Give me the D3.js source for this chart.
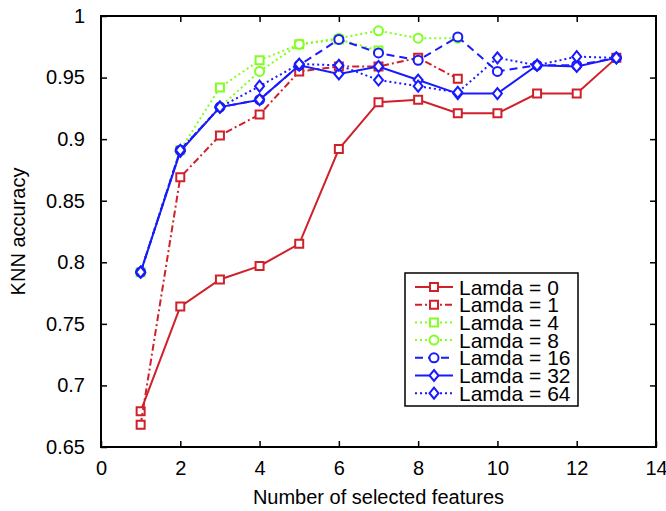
<!DOCTYPE html>
<html>
<head>
<meta charset="utf-8">
<script src="https://cdn.jsdelivr.net/npm/d3@7"></script>
<style>
  body { margin: 0; background: #fff; }
  text { font-family: "Liberation Sans", Arial, sans-serif; fill: #000; }
</style>
</head>
<body>
<svg id="chart" width="666" height="511"></svg>
<script>
// data
var features = [1, 2, 3, 4, 5, 6, 7, 8, 9, 10, 11, 12, 13];
var lamda0  = [0.679, 0.764, 0.786, 0.797, 0.815, 0.892, 0.930, 0.932, 0.921, 0.921, 0.937, 0.937, 0.966];
var lamda1  = [0.668, 0.869, 0.903, 0.920, 0.955, 0.959, 0.959, 0.966, 0.949];
var lamda4  = [0.792, 0.891, 0.942, 0.964, 0.977, 0.981, 0.972];
var lamda8  = [0.792, 0.891, 0.926, 0.955, 0.977, 0.982, 0.988, 0.982, 0.982];
var lamda16 = [0.792, 0.891, 0.926, 0.932, 0.960, 0.981, 0.970, 0.964, 0.983, 0.955, 0.960, 0.960, 0.966];
var lamda32 = [0.792, 0.890, 0.926, 0.932, 0.960, 0.953, 0.959, 0.948, 0.937, 0.937, 0.960, 0.959, 0.966];
var lamda64 = [0.792, 0.891, 0.926, 0.943, 0.961, 0.960, 0.948, 0.943, 0.938, 0.966, 0.960, 0.967, 0.966];
var seriesNames = ["Lamda = 0", "Lamda = 1", "Lamda = 4", "Lamda = 8", "Lamda = 16", "Lamda = 32", "Lamda = 64"];
var xTicks = [0, 2, 4, 6, 8, 10, 12, 14];
var yTicks = [0.65, 0.7, 0.75, 0.8, 0.85, 0.9, 0.95, 1];

var red = "#d0202a", green = "#80ff20", blue = "#1a1aff";
var styles = [
    {color: red,   dash: null,      marker: "square"},
    {color: red,   dash: "7,3,2,3", marker: "square"},
    {color: green, dash: "2,3",     marker: "square"},
    {color: green, dash: "2,3",     marker: "circle"},
    {color: blue,  dash: "8,5",     marker: "circle"},
    {color: blue,  dash: null,      marker: "diamond"},
    {color: blue,  dash: "2,3",     marker: "diamond"}
];
var allSeries = [lamda0, lamda1, lamda4, lamda8, lamda16, lamda32, lamda64];

var svg = d3.select("#chart");
// plot frame (window.top is reserved, so prefixed names)
var pLeft = 101, pRight = 656, pTop = 16, pBottom = 447;

var x = d3.scaleLinear().domain([0, 14]).range([pLeft, pRight]);
var y = d3.scaleLinear().domain([0.65, 1]).range([pBottom, pTop]);

var tickLen = 6;

//inward ticks on all four sides
var xAxisB = d3.axisBottom(x).tickValues(xTicks).tickSizeInner(-tickLen).tickSizeOuter(0).tickPadding(14);
var xAxisT = d3.axisTop(x).tickValues(xTicks.slice(1, -1)).tickSizeInner(-tickLen).tickSizeOuter(0).tickFormat("");
var yAxisL = d3.axisLeft(y).tickValues(yTicks).tickSizeInner(-tickLen).tickSizeOuter(0).tickPadding(16)
    .tickFormat(d3.format("~g"));
var yAxisR = d3.axisRight(y).tickValues(yTicks.slice(1, -1)).tickSizeInner(-tickLen).tickSizeOuter(0).tickFormat("");

function styleAxis(g) {
    g.attr("font-family", null).attr("font-size", null);
    g.select(".domain").remove();
    g.selectAll(".tick line").attr("stroke", "#000").attr("stroke-width", 1.5);
    g.selectAll(".tick text").style("font-size", "20px").attr("fill", "#000");
}

svg.append("g").attr("transform", "translate(0," + pBottom + ")").call(xAxisB).call(styleAxis);
svg.append("g").attr("transform", "translate(0," + pTop + ")").call(xAxisT).call(styleAxis);
svg.append("g").attr("transform", "translate(" + pLeft + ",0)").call(yAxisL).call(styleAxis);
svg.append("g").attr("transform", "translate(" + pRight + ",0)").call(yAxisR).call(styleAxis);

var line = d3.line()
    .x(function(d) { return x(d[0]); })
    .y(function(d) { return y(d[1]); });

function markerPath(type) {
    if (type == "square") return "M-4,-4H4V4H-4Z";
    if (type == "circle") return d3.symbol(d3.symbolCircle, 64)();
    return "M0,-5.5L4.5,0L0,5.5L-4.5,0Z";
}

var plot = svg.append("g");

allSeries.forEach(function(vals, i) {
    var pts = vals.map(function(v, j) { return [features[j], v]; });
    var s = styles[i];
    var g = plot.append("g");
    g.append("path")
        .attr("d", line(pts))
        .attr("fill", "none")
        .attr("stroke", s.color)
        .attr("stroke-width", 2)
        .attr("stroke-dasharray", s.dash);
    g.selectAll(".mk")
        .data(pts)
        .enter()
        .append("path")
        .attr("class", "mk")
        .attr("transform", function(d) { return "translate(" + x(d[0]) + "," + y(d[1]) + ")"; })
        .attr("d", markerPath(s.marker))
        .attr("fill", "#fff")
        .attr("stroke", s.color)
        .attr("stroke-width", 2);
});

// frame
svg.append("rect")
    .attr("x", pLeft).attr("y", pTop)
    .attr("width", pRight - pLeft).attr("height", pBottom - pTop)
    .attr("fill", "none").attr("stroke", "#000").attr("stroke-width", 2);

// axis titles
svg.append("text")
    .attr("x", (pLeft + pRight) / 2)
    .attr("y", 504)
    .attr("text-anchor", "middle")
    .style("font-size", "20px")
    .text("Number of selected features");

svg.append("text")
    .attr("transform", "translate(25," + ((pTop + pBottom) / 2) + ") rotate(-90)")
    .attr("text-anchor", "middle")
    .style("font-size", "20px")
    .text("KNN accuracy");

// legend
var lg = svg.append("g").attr("transform", "translate(405,273)");
var rowH = 17.7;
lg.append("rect")
    .attr("width", 173).attr("height", 133)
    .attr("fill", "#fff").attr("stroke", "#000").attr("stroke-width", 1.5);

seriesNames.forEach(function(name, i) {
    var s = styles[i];
    var cy = 14 + i * rowH;
    lg.append("line")
        .attr("x1", 10).attr("x2", 48).attr("y1", cy).attr("y2", cy)
        .attr("stroke", s.color).attr("stroke-width", 2)
        .attr("stroke-dasharray", s.dash);
    lg.append("path")
        .attr("transform", "translate(29," + cy + ")")
        .attr("d", markerPath(s.marker))
        .attr("fill", "#fff").attr("stroke", s.color).attr("stroke-width", 2);
    lg.append("text")
        .attr("x", 54).attr("y", cy + 7.5)
        .style("font-size", "21px")
        .text(name);
});
</script>
</body>
</html>
